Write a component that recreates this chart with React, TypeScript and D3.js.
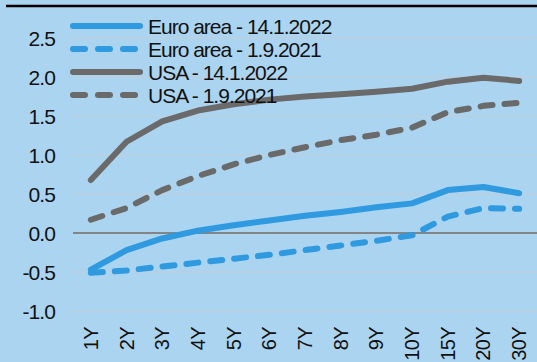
import React from "react";
import * as d3 from "d3";

const categories = ["1Y","2Y","3Y","4Y","5Y","6Y","7Y","8Y","9Y","10Y","15Y","20Y","30Y"];
const euroJan22 = [-0.47,-0.22,-0.07,0.03,0.10,0.16,0.22,0.27,0.33,0.38,0.55,0.59,0.51];
const euroSep21 = [-0.51,-0.48,-0.43,-0.38,-0.33,-0.28,-0.22,-0.16,-0.10,-0.03,0.21,0.32,0.31];
const usaJan22 = [0.68,1.17,1.43,1.57,1.65,1.71,1.75,1.78,1.81,1.85,1.94,1.99,1.95];
const usaSep21 = [0.17,0.32,0.55,0.73,0.88,1.00,1.10,1.19,1.26,1.35,1.55,1.63,1.67];
const yTicks = [-1.0,-0.5,0.0,0.5,1.0,1.5,2.0,2.5];

const BLUE = "#2f9ae0";
const GRAY = "#6a6a6a";

const series = [
  { name: "Euro area - 14.1.2022", values: euroJan22, color: BLUE, dashed: false },
  { name: "Euro area - 1.9.2021", values: euroSep21, color: BLUE, dashed: true },
  { name: "USA - 14.1.2022", values: usaJan22, color: GRAY, dashed: false },
  { name: "USA - 1.9.2021", values: usaSep21, color: GRAY, dashed: true },
];

export default function App() {
  const W = 537, H = 362;
  const x = d3.scaleBand().domain(categories).range([73, 537]);
  const y = d3.scaleLinear().domain([-1, 2.5]).range([311, 38]);
  const line = d3.line<number>()
    .x((_, i) => (x(categories[i]) as number) + x.bandwidth() / 2)
    .y((d) => y(d));
  const font = "'Liberation Sans', Arial, sans-serif";
  return (
    <div style={{ position: "fixed", left: 0, top: 0 }}>
      <svg width={W} height={H} style={{ display: "block" }}>
        <rect width={W} height={H} fill="#abd4f1" />
        <line x1={6} x2={W} y1={6} y2={6} stroke="#000" strokeWidth={2.5} />
        {yTicks.map((t) => (
          <g key={t}>
            <line x1={73} x2={W} y1={y(t)} y2={y(t)}
              stroke={t === 0 ? "#858585" : "#c3ccd4"} strokeWidth={t === 0 ? 2 : 1} />
            <text x={55} y={y(t)} dy="0.36em" textAnchor="end" fontFamily={font}
              fontSize={21} letterSpacing={-0.9} fill="#111">{t.toFixed(1)}</text>
          </g>
        ))}
        {categories.map((c) => {
          const cx = (x(c) as number) + x.bandwidth() / 2;
          return (
            <text key={c} transform={`translate(${cx + 7},327) rotate(-90)`} textAnchor="end"
              fontFamily={font} fontSize={20} letterSpacing={-0.6} fill="#111">{c}</text>
          );
        })}
        {series.map((s) => (
          <path key={s.name} d={line(s.values) || ""} fill="none" stroke={s.color}
            strokeWidth={6} strokeLinecap="round" strokeLinejoin="round"
            strokeDasharray={s.dashed ? "12,12" : undefined} />
        ))}
        {series.map((s, i) => {
          const ly = 26 + i * 23;
          return (
            <g key={s.name}>
              <line x1={73} x2={140} y1={ly} y2={ly} stroke={s.color} strokeWidth={6}
                strokeLinecap="round" strokeDasharray={s.dashed ? "12,13" : undefined} />
              <text x={148} y={ly} dy="0.36em" fontFamily={font} fontSize={21}
                letterSpacing={-1} fill="#111">{s.name}</text>
            </g>
          );
        })}
      </svg>
    </div>
  );
}
